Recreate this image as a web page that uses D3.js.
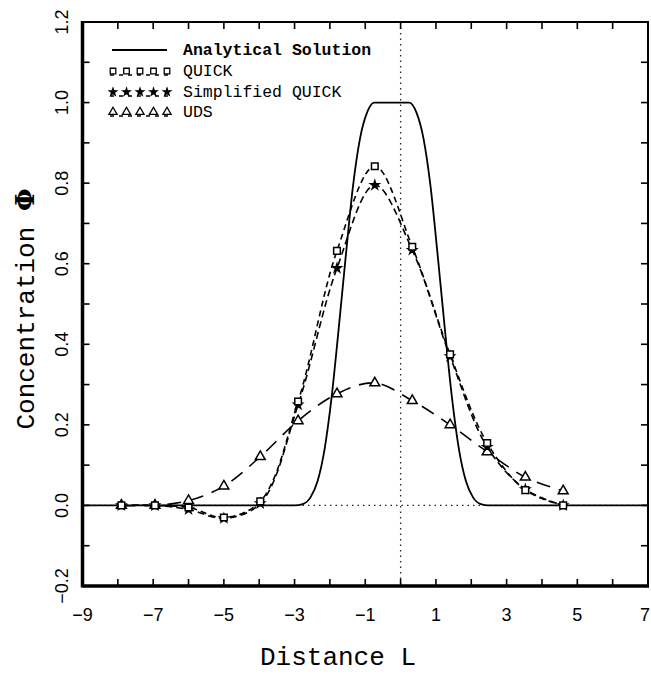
<!DOCTYPE html>
<html>
<head>
<meta charset="utf-8">
<script src="https://cdn.jsdelivr.net/npm/d3@7"></script>
<style>
  body { margin: 0; background: #fff; }
  svg { display: block; }
</style>
</head>
<body>
<div id="vis"></div>
<script>
// grid nodes (Distance L) shared by the three numerical schemes
const nodes = [-7.9, -6.95, -6.0, -5.0, -3.97, -2.9, -1.8, -0.73, 0.33, 1.4, 2.45, 3.53, 4.6];
const quick = [0, 0, -0.005, -0.03, 0.01, 0.258, 0.632, 0.842, 0.642, 0.375, 0.155, 0.038, 0.0];
const simpQuick = [0, 0, -0.01, -0.032, 0.005, 0.25, 0.589, 0.795, 0.634, 0.37, 0.145, 0.04, 0.0];
const uds = [0, 0, 0.012, 0.048, 0.121, 0.21, 0.277, 0.304, 0.26, 0.2, 0.133, 0.07, 0.036];

// analytical solution
const anaX = [-9, -3.0, -2.75, -2.55, -2.35, -2.15, -1.95, -1.75, -1.55, -1.35, -1.15, -0.95, -0.75,
              0.25, 0.45, 0.65, 0.85, 1.05, 1.25, 1.45, 1.65, 1.85, 2.05, 2.25, 2.5, 7];
const anaY = [0, 0, 0.004, 0.02, 0.06, 0.14, 0.27, 0.44, 0.62, 0.79, 0.91, 0.975, 1.0,
              1.0, 0.975, 0.91, 0.79, 0.62, 0.44, 0.27, 0.14, 0.06, 0.02, 0.004, 0, 0];

const xTicks = d3.range(-9, 8, 1);
const xLabels = [-9, -7, -5, -3, -1, 1, 3, 5, 7];
const yTicks = d3.range(-0.2, 1.21, 0.1).map(v => +v.toFixed(1));
const yLabels = [-0.2, 0.0, 0.2, 0.4, 0.6, 0.8, 1.0, 1.2];

const legendNames = ["Analytical Solution", "QUICK", "Simplified QUICK", "UDS"];

const W = 651, H = 675;
const L = 82.5, R = 648, T = 22, B = 586;

const x = d3.scaleLinear().domain([-9, 7]).range([L, R]);
const y = d3.scaleLinear().domain([-0.2, 1.2]).range([B, T]);

const svg = d3.select("#vis").append("svg")
  .attr("width", W)
  .attr("height", H);

const fmt = v => d3.format(".1f")(v).replace("-", "\u2212");

// dotted reference lines
svg.append("line")
  .attr("x1", x(0)).attr("x2", x(0)).attr("y1", T).attr("y2", B)
  .attr("stroke", "#222").attr("stroke-width", 1.3).attr("stroke-dasharray", "1.5,4");
svg.append("line")
  .attr("x1", L).attr("x2", R).attr("y1", y(0)).attr("y2", y(0))
  .attr("stroke", "#222").attr("stroke-width", 1.3).attr("stroke-dasharray", "1.5,4");

// analytical curve
const anaLine = d3.line().x((d, i) => x(anaX[i])).y(d => y(d)).curve(d3.curveMonotoneX);
svg.append("path").datum(anaY)
  .attr("d", anaLine)
  .attr("fill", "none").attr("stroke", "#000").attr("stroke-width", 1.8);

const numLine = d3.line().x((d, i) => x(nodes[i])).y(d => y(d)).curve(d3.curveCatmullRom.alpha(0.5));

const series = [
  { vals: quick, dash: "6,4", sym: d3.symbolSquare, size: 44, fill: "#fff" },
  { vals: simpQuick, dash: "7,4", sym: d3.symbolStar, size: 22, fill: "#000" },
  { vals: uds, dash: "14,9", sym: d3.symbolTriangle, size: 42, fill: "#fff" }
];

series.forEach(s => {
  svg.append("path").datum(s.vals)
    .attr("d", numLine)
    .attr("fill", "none").attr("stroke", "#000").attr("stroke-width", 1.6)
    .attr("stroke-dasharray", s.dash);
});

series.slice().reverse().forEach(s => {
  svg.append("g").selectAll("path")
    .data(s.vals)
    .join("path")
    .attr("transform", (d, i) => `translate(${x(nodes[i])},${y(d)})`)
    .attr("d", d3.symbol(s.sym, s.size))
    .attr("fill", s.fill).attr("stroke", "#000").attr("stroke-width", 1.5);
});

// frame
svg.append("rect")
  .attr("x", L).attr("y", T).attr("width", R - L).attr("height", B - T)
  .attr("fill", "none").attr("stroke", "#000").attr("stroke-width", 2);
svg.append("line").attr("x1", L).attr("x2", L).attr("y1", T - 1).attr("y2", B + 1.5)
  .attr("stroke", "#000").attr("stroke-width", 3.5);
svg.append("line").attr("x1", L).attr("x2", R + 1).attr("y1", B).attr("y2", B)
  .attr("stroke", "#000").attr("stroke-width", 3.5);

// inward ticks on all four sides
const tk = 7;
const ticksG = svg.append("g").attr("stroke", "#000").attr("stroke-width", 1.6);
xTicks.slice(1, -1).forEach(v => {
  ticksG.append("line").attr("x1", x(v)).attr("x2", x(v)).attr("y1", B).attr("y2", B - tk);
  ticksG.append("line").attr("x1", x(v)).attr("x2", x(v)).attr("y1", T).attr("y2", T + tk);
});
yTicks.slice(1, -1).forEach(v => {
  ticksG.append("line").attr("x1", L).attr("x2", L + tk).attr("y1", y(v)).attr("y2", y(v));
  ticksG.append("line").attr("x1", R).attr("x2", R - tk).attr("y1", y(v)).attr("y2", y(v));
});

// tick labels (last one pulled inside the page edge)
svg.append("g").selectAll("text")
  .data(xLabels)
  .join("text")
  .attr("x", d => d === 7 ? W - 1 : x(d))
  .attr("y", 621)
  .attr("text-anchor", d => d === 7 ? "end" : "middle")
  .attr("font-family", "Liberation Sans, Arial, sans-serif")
  .attr("font-size", 18)
  .text(d => String(d).replace("-", "\u2212"));

svg.append("g").selectAll("text")
  .data(yLabels)
  .join("text")
  .attr("transform", d => `translate(68,${y(d)}) rotate(-90)`)
  .attr("text-anchor", "middle")
  .attr("font-family", "Liberation Sans, Arial, sans-serif")
  .attr("font-size", 18)
  .text(d => fmt(d));

// axis titles
svg.append("text")
  .attr("x", 338).attr("y", 665)
  .attr("text-anchor", "middle")
  .attr("font-family", "Liberation Mono, Courier New, monospace")
  .attr("font-size", 26)
  .text("Distance L");

const yt = svg.append("text")
  .attr("transform", `translate(34,${(T + B) / 2 + 5}) rotate(-90)`)
  .attr("text-anchor", "middle")
  .attr("font-family", "Liberation Mono, Courier New, monospace")
  .attr("font-size", 26);
yt.append("tspan").text("Concentration ");
yt.append("tspan").attr("font-family", "DejaVu Serif, serif").attr("font-weight", "bold").text("\u03A6");

// legend
const lg = svg.append("g");
const rowY = [50, 71, 92, 112];
lg.append("line").attr("x1", 112).attr("x2", 167).attr("y1", rowY[0]).attr("y2", rowY[0])
  .attr("stroke", "#000").attr("stroke-width", 1.8);
series.forEach((s, k) => {
  const ry = rowY[k + 1];
  lg.append("line").attr("x1", 110).attr("x2", 168).attr("y1", ry + 4).attr("y2", ry + 4)
    .attr("stroke", "#000").attr("stroke-width", 1.4).attr("stroke-dasharray", "4,5");
  lg.append("g").selectAll("path")
    .data(d3.range(5))
    .join("path")
    .attr("transform", i => `translate(${113 + i * 13.5},${ry})`)
    .attr("d", d3.symbol(s.sym, s.size * 0.7))
    .attr("fill", s.fill).attr("stroke", "#000").attr("stroke-width", 1.3);
});
lg.selectAll("text")
  .data(legendNames)
  .join("text")
  .attr("x", 183)
  .attr("y", (d, i) => rowY[i] + 5)
  .attr("font-family", "Liberation Mono, Courier New, monospace")
  .attr("font-size", 16.5)
  .attr("font-weight", (d, i) => i === 0 ? "bold" : "normal")
  .text(d => d);
</script>
</body>
</html>
